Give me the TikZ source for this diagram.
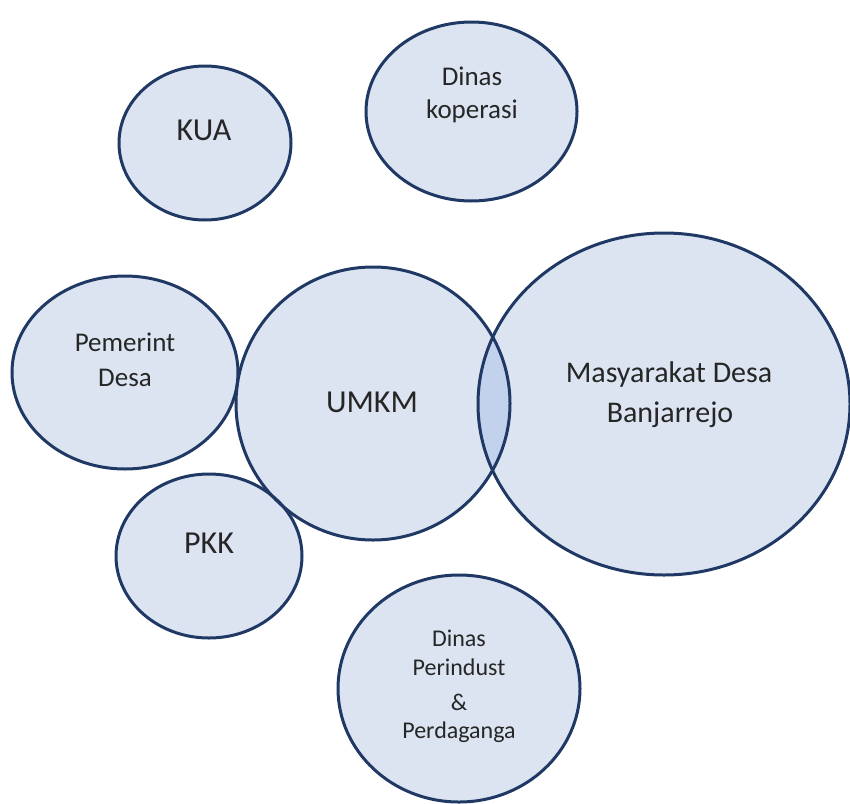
\documentclass[tikz,border=0pt]{standalone}
\usepackage{fontspec}
\setmainfont{Carlito}
\usetikzlibrary{shapes.geometric}
\definecolor{bubfill}{HTML}{DCE4F2}
\definecolor{lensfill}{HTML}{C3D2EC}
\definecolor{bubline}{HTML}{1F3864}
\definecolor{txtcol}{HTML}{262626}
\tikzset{
  bubbase/.style={ellipse, inner sep=0pt, outer sep=0pt},
  fillb/.style={bubbase, fill=bubfill},
  olb/.style={bubbase, draw=bubline, line width=3pt},
  kuaS/.style={minimum width=172pt, minimum height=154pt},
  kopS/.style={minimum width=211pt, minimum height=179pt},
  pemS/.style={minimum width=226pt, minimum height=193pt},
  umkmS/.style={minimum width=274pt, minimum height=273pt},
  masS/.style={minimum width=372pt, minimum height=342pt},
  pkkS/.style={minimum width=186pt, minimum height=164pt},
  perS/.style={minimum width=242pt, minimum height=227pt},
  txt/.style={anchor=base, inner sep=0pt, text=txtcol},
  big/.style={txt, font=\fontsize{32}{38}\selectfont},
  mid/.style={txt, font=\fontsize{30}{36}\selectfont},
  sml/.style={txt, font=\fontsize{27}{32}\selectfont},
  tiny/.style={txt, font=\fontsize{24}{29}\selectfont},
}
\begin{document}
\begin{tikzpicture}[x=1pt, y=-1pt]
\useasboundingbox (0,0) rectangle (850,803);
% fills
\node[fillb, kuaS]  (kua)  at (205,143) {};
\node[fillb, kopS]  (kop)  at (471.5,111.5) {};
\node[fillb, pemS]  (pem)  at (125,372.5) {};
\node[fillb, umkmS] (umkm) at (373,403.5) {};
\node[fillb, masS]  (mas)  at (664,404) {};
\node[fillb, pkkS]  (pkk)  at (209,556) {};
\node[fillb, perS]  (per)  at (459,688.5) {};
% lens overlap
\begin{scope}
  \path[clip] (umkm.center) ellipse [x radius=137, y radius=136.5];
  \fill[lensfill] (mas.center) ellipse [x radius=186, y radius=171];
\end{scope}
% outlines
\node[olb, kuaS]  (kuaO)  at (kua) {};
\node[olb, kopS]  (kopO)  at (kop) {};
\node[olb, pemS]  (pemO)  at (pem) {};
\node[olb, umkmS] (umkmO) at (umkm) {};
\node[olb, masS]  (masO)  at (mas) {};
\node[olb, pkkS]  (pkkO)  at (pkk) {};
\node[olb, perS]  (perO)  at (per) {};
% texts
\node[big] (kuaT) at (204,140) {KUA};
\node[sml] (kopT1) at (472,85) {Dinas};
\node[sml] (kopT2) at (472,118) {koperasi};
\node[sml] (pemT1) at (125,351) {Pemerint};
\node[sml] (pemT2) at (125,386) {Desa};
\node[big] (umkmT) at (372,412) {UMKM};
\node[mid] (masT1) at (669,382) {Masyarakat Desa};
\node[mid] (masT2) at (670,422) {Banjarrejo};
\node[big] (pkkT) at (209,553) {PKK};
\node[tiny] (perT1) at (459,646) {Dinas};
\node[tiny] (perT2) at (459,675) {Perindust};
\node[tiny] (perT3) at (459,710) {\&};
\node[tiny] (perT4) at (459,738) {Perdaganga};
\end{tikzpicture}
\end{document}
